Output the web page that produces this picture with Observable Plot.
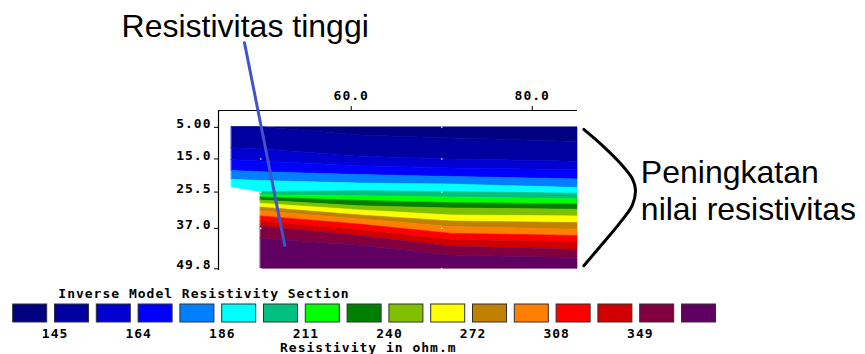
<!DOCTYPE html>
<html><head><meta charset="utf-8">
<script src="https://cdn.jsdelivr.net/npm/d3@7"></script>
<script src="https://cdn.jsdelivr.net/npm/@observablehq/plot@0.6"></script>
<style>
body{margin:0;background:#fff;}
#chart svg{display:block;}
[aria-label$="tick label"] text, .mono text{letter-spacing:1px;}
</style></head><body><div id="chart"></div>
<script>
// Distance (m) columns where band boundaries were read
const xs = [46.8, 50, 61, 71, 85];
// 17 resistivity class colours (legend order)
const bandColors = ["#000080","#0000a0","#0000d0","#0000ff","#0080ff","#00ffff","#00c080","#00ff00",
  "#008000","#80c000","#ffff00","#c08000","#ff8000","#ff0000","#d00000","#800040","#600060"];
// Depth (m) of each class boundary at the xs columns (null: no data there)
const b0  = [5, 5, 5, 5, 5];
const b1  = [5, 5, 7.6, 8.5, 9.6];
const b2  = [11.6, 11.9, 14.3, 15.2, 15.9];
const b3  = [15.4, 15.8, 17.3, 18.0, 18.6];
const b4  = [18.8, 19.2, 20.1, 20.7, 21.5];
const b5  = [21.6, 22.0, 22.8, 23.1, 24.2];
const b6  = [24.0, 25.5, 25.2, 25.5, 26.0];
const b7  = [null, 26.5, 26.8, 27.2, 27.8];
const b8  = [null, 27.2, 28.3, 29.0, 29.4];
const b9  = [null, 28.2, 30.0, 30.7, 31.1];
const b10 = [null, 29.2, 31.3, 32.9, 33.2];
const b11 = [null, 30.4, 32.9, 34.8, 35.3];
const b12 = [null, 31.6, 34.2, 36.6, 37.4];
const b13 = [null, 33.2, 35.8, 38.7, 39.4];
const b14 = [null, 34.8, 37.6, 40.6, 41.4];
const b15 = [null, 36.4, 39.4, 42.7, 43.8];
const b16 = [null, 40.3, 42.5, 45.6, 46.4];
const b17 = [null, 49.8, 49.8, 49.8, 49.8];
const bounds = [b0,b1,b2,b3,b4,b5,b6,b7,b8,b9,b10,b11,b12,b13,b14,b15,b16,b17];

const xTicks = [60, 80];
const yTicks = [5, 15, 25.5, 37, 49.8];
const yTickLabels = ["5.00", "15.0", "25.5", "37.0", "49.8"];
const gridX = [50, 70];
const legendTickLabels = ["145", "164", "186", "211", "240", "272", "308", "349"];
const legendTitle = "Inverse Model Resistivity Section";
const legendCaption = "Resistivity in ohm.m";

// annotations (data coordinates: distance, depth)
const pointer = [{x: 48.2, y: -21.8}, {x: 52.66, y: 42.4}];
const bracket = [
  {x: 85.70, y: 5.64}, {x: 87.91, y: 11.16}, {x: 89.75, y: 16.44}, {x: 91.05, y: 21.21},
  {x: 91.41, y: 24.93}, {x: 91.05, y: 29.70}, {x: 89.75, y: 35.01}, {x: 87.91, y: 41.37}, {x: 85.70, y: 48.84}
];
const annotations = [
  {text: "Resistivitas tinggi", x: 34.62, y: -26.9},
  {text: "Peningkatan", x: 92.0, y: 19.36},
  {text: "nilai resistivitas", x: 92.0, y: 31.0}
];

const bandMarks = bandColors.map((c, i) => {
  const data = xs.map((x, j) => ({x, y1: bounds[i][j], y2: bounds[i + 1][j]}));
  return Plot.areaY(data, {x: "x", y1: "y1", y2: "y2", fill: c, stroke: c, strokeWidth: 0.6, curve: "linear"});
});
const gridDots = gridX.flatMap(x => yTicks.map(y => ({x, y})));

const x0 = 45.33, y0 = -0.34;
const main = Plot.plot({
  width: 865, height: 285,
  marginTop: 110, marginLeft: 218, marginRight: 288, marginBottom: 15,
  x: {domain: [x0, 85]},
  y: {domain: [y0, 50.34], reverse: true},
  style: {fontFamily: "DejaVu Sans Mono", fontSize: "13px", fontWeight: "bold", color: "#000", background: "#fff", overflow: "visible"},
  marks: [
    ...bandMarks,
    Plot.dot(gridDots, {x: "x", y: "y", r: 0.8, fill: "#fff"}),
    Plot.ruleY([y0], {stroke: "#000", strokeWidth: 1.2}),
    Plot.ruleX([x0], {stroke: "#000", strokeWidth: 1.2}),
    Plot.axisX(xTicks, {anchor: "top", tickSize: 5, tickPadding: 6, tickFormat: d => d.toFixed(1), label: null}),
    Plot.axisY(yTicks, {anchor: "left", tickSize: 4, tickFormat: () => "", label: null}),
    Plot.text(yTicks, {y: d => d, text: d => yTickLabels[yTicks.indexOf(d)], frameAnchor: "left", textAnchor: "end", lineAnchor: "middle", dx: -7, dy: -3.5, className: "mono"}),
    Plot.line(pointer, {x: "x", y: "y", stroke: "#4252cc", strokeWidth: 3}),
    Plot.line(bracket, {x: "x", y: "y", curve: "catmull-rom", stroke: "#000", strokeWidth: 3}),
    Plot.text(annotations, {x: "x", y: "y", text: "text", textAnchor: "start", fontFamily: "Liberation Sans", fontSize: 32, fontWeight: "normal", fill: "#000"})
  ]
});

const legendIdx = bandColors.map((c, i) => i);
const legendTicks = legendTickLabels.map((label, k) => ({at: 1 + 2 * k, label}));
const legend = Plot.plot({
  width: 865, height: 69,
  marginTop: 19, marginBottom: 32, marginLeft: 8.8, marginRight: 145.6,
  x: {domain: [0, 17], axis: null},
  y: {axis: null},
  style: {fontFamily: "DejaVu Sans Mono", fontSize: "13px", fontWeight: "bold", letterSpacing: "1px", color: "#000", background: "#fff", overflow: "visible"},
  marks: [
    Plot.rect(legendIdx, {x1: i => i, x2: i => i + 1, fill: i => bandColors[i], stroke: "#303030", strokeWidth: 1, insetLeft: 3.9, insetRight: 3.9}),
    Plot.text(legendTicks, {x: "at", text: "label", frameAnchor: "bottom", lineAnchor: "middle", dy: 11.5, dx: 4}),
    Plot.text([legendTitle], {text: d => d, frameAnchor: "top-left", lineAnchor: "middle", dx: 49, dy: -11, textAnchor: "start"}),
    Plot.text([legendCaption], {text: d => d, frameAnchor: "bottom-left", lineAnchor: "middle", dx: 359, dy: 25, textAnchor: "middle"})
  ]
});

const root = document.getElementById("chart");
root.appendChild(main);
root.appendChild(legend);
</script></body></html>
